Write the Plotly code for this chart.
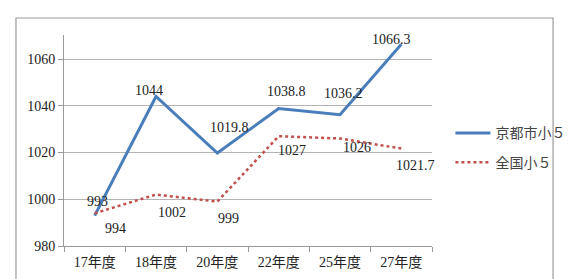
import plotly.graph_objects as go

categories = ["17年度", "18年度", "20年度", "22年度", "25年度", "27年度"]
kyoto = [993, 1044, 1019.8, 1038.8, 1036.2, 1066.3]
national = [994, 1002, 999, 1027, 1026, 1021.7]
kyoto_labels = ["993", "1044", "1019.8", "1038.8", "1036.2", "1066.3"]
national_labels = ["994", "1002", "999", "1027", "1026", "1021.7"]
y_ticks = [980, 1000, 1020, 1040, 1060]

# label offsets (pixels)
kyoto_off = [(3, 14), (-7, 6), (12, 26), (8, 17), (3, 21), (-10, 5)]
national_off = [(21, -15), (16, -18), (11, -17), (13, -14), (17, -9), (14, -17)]

FONT = "Liberation Serif, Noto Sans CJK JP, serif"
BLUE = "#4a7ebb"
RED = "#c0504d"

fig = go.Figure()
fig.add_trace(go.Scatter(x=categories, y=kyoto, mode="lines", name="京都市小５",
                         legendgroup="a", line=dict(color=BLUE, width=3)))
fig.add_trace(go.Scatter(x=categories, y=national, mode="lines", name="全国小５",
                         legendgroup="b", line=dict(color=RED, width=2.5, dash="dot")))

anns = []
for c, v, t, (dx, dy) in zip(categories, kyoto, kyoto_labels, kyoto_off):
    anns.append(dict(x=c, y=v, text=t, showarrow=False, xshift=dx, yshift=dy,
                     font=dict(family=FONT, size=14, color="#222")))
for c, v, t, (dx, dy) in zip(categories, national, national_labels, national_off):
    anns.append(dict(x=c, y=v, text=t, showarrow=False, xshift=dx, yshift=dy,
                     font=dict(family=FONT, size=14, color="#222")))

fig.update_layout(
    width=574, height=279,
    margin=dict(l=56, r=135, t=27, b=41),
    paper_bgcolor="white", plot_bgcolor="white",
    font=dict(family=FONT, size=14, color="#222"),
    showlegend=True,
    legend=dict(x=1.05, y=0.465, xanchor="left", yanchor="middle",
                bgcolor="rgba(0,0,0,0)", font=dict(family=FONT, size=14, color="#444"),
                itemwidth=35, tracegroupgap=8),
    annotations=anns,
    shapes=[dict(type="rect", xref="paper", yref="paper",
                 x0=-0.1305, x1=1.329, y0=-0.175, y1=1.0806,
                 line=dict(color="#9a9a9a", width=1.2), fillcolor="rgba(0,0,0,0)")],
    xaxis=dict(type="category", range=[-0.5, 5.5], showgrid=False,
               showline=True, linecolor="#9a9a9a", linewidth=1,
               ticks="outside", tickson="boundaries", ticklen=5, tickcolor="#9a9a9a",
               ticklabelstandoff=3,
               tickfont=dict(family=FONT, size=14, color="#222")),
    yaxis=dict(range=[980, 1070.3], tickvals=y_ticks, showgrid=True,
               gridcolor="#b4b4b4", gridwidth=1,
               showline=True, linecolor="#9a9a9a", linewidth=1,
               ticks="outside", ticklen=5, tickcolor="#9a9a9a",
               zeroline=False,
               tickfont=dict(family=FONT, size=14, color="#222")),
)

fig.write_html("out.html")
